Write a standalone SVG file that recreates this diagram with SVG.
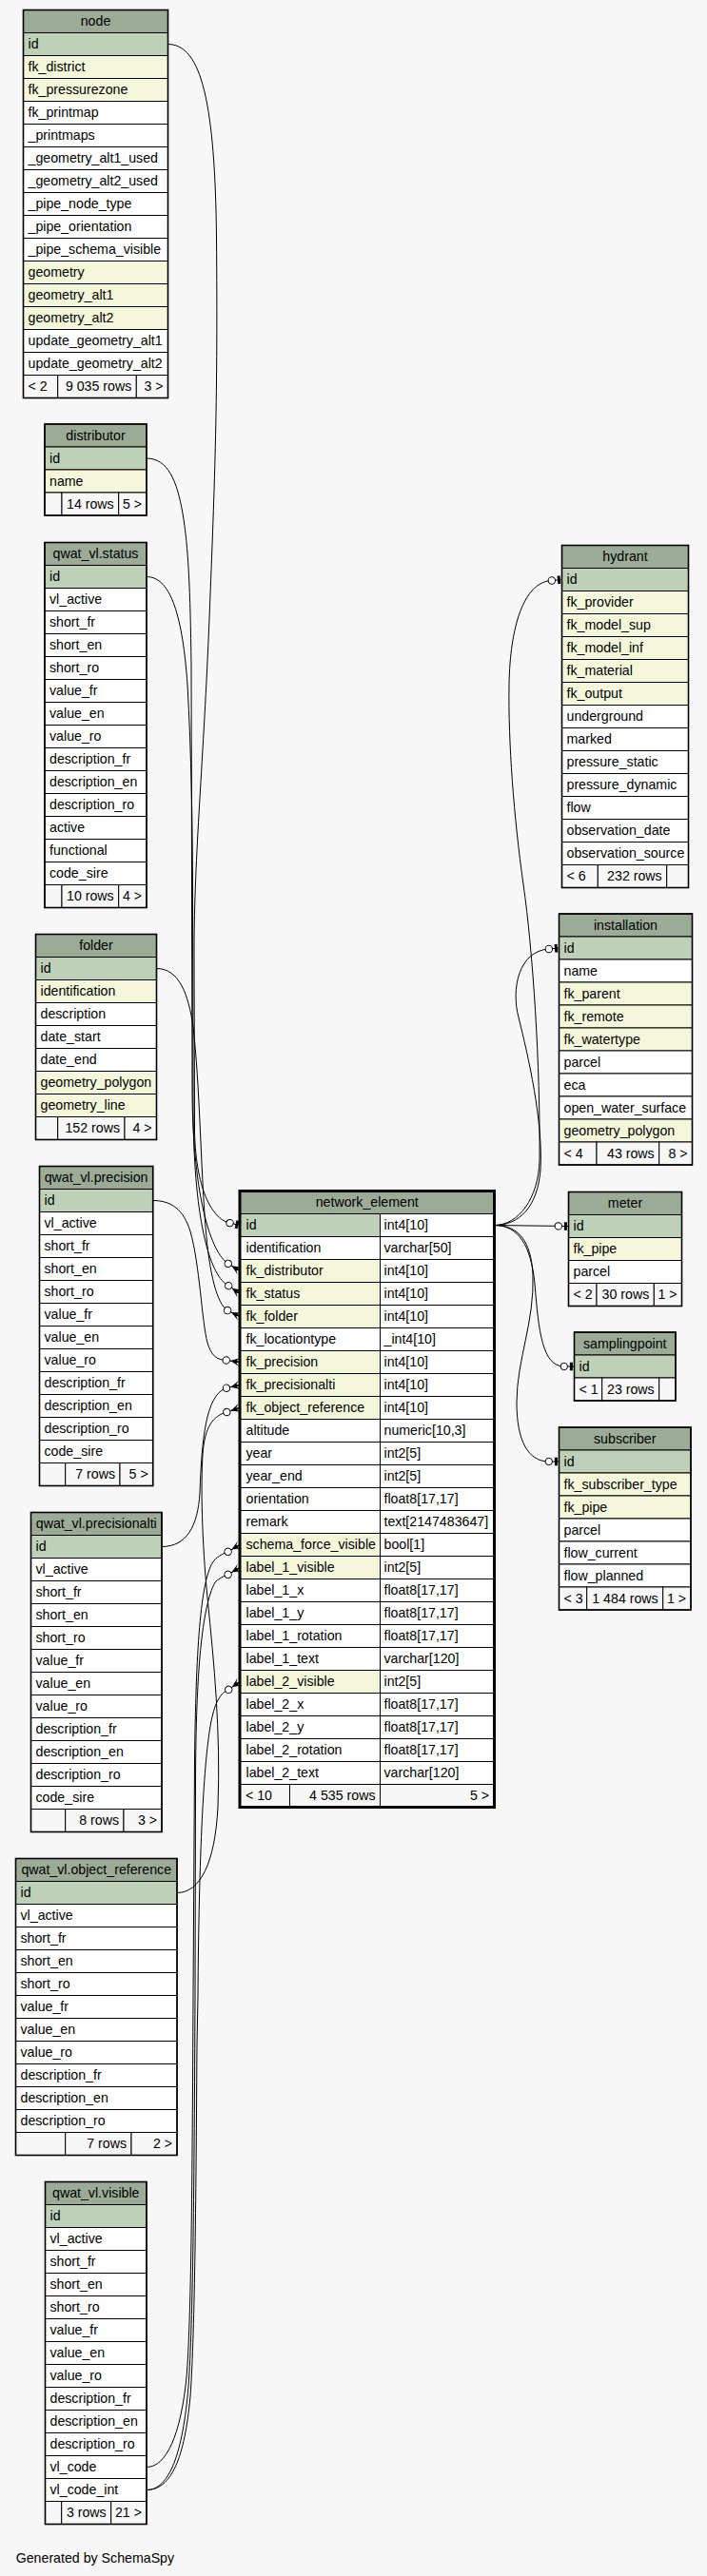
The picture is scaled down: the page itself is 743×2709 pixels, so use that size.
<svg xmlns="http://www.w3.org/2000/svg" width="743" height="2709" viewBox="0 0 743 2709">
<style>
text{font-family:"Liberation Sans",Arial,Helvetica,sans-serif;font-size:14.2px;fill:#000}
.c{text-anchor:middle}
.e{text-anchor:end}
.h{fill:#9bab96;stroke:#000;stroke-width:1}
.pk{fill:#bed1b8;stroke:#000;stroke-width:1}
.fk{fill:#f4f7da;stroke:#000;stroke-width:1}
.w{fill:#fff;stroke:#000;stroke-width:1}
.f{fill:#f7f7f7;stroke:#000;stroke-width:1}
.ob{fill:none;stroke:#000;stroke-width:1.6}
.obs{fill:none;stroke:#000;stroke-width:3}
.ln{fill:none;stroke:#000;stroke-width:1}
</style>
<defs>
<marker id="crowodot" markerUnits="userSpaceOnUse" orient="auto" markerWidth="40" markerHeight="20" viewBox="-20 -10 40 20" refX="0" refY="0" overflow="visible">
<path d="M-10,0 L0,-4.5 L-3.5,-1.2 L0,0 L-3.5,1.2 L0,4.5 Z" fill="#000"/>
<circle cx="-14.4" cy="0" r="3.7" fill="#fff" stroke="#000" stroke-width="1"/>
</marker>
<marker id="teeodot" markerUnits="userSpaceOnUse" orient="auto" markerWidth="40" markerHeight="20" viewBox="-20 -10 40 20" refX="0" refY="0" overflow="visible">
<rect x="-4.6" y="-4.3" width="3" height="8.6" fill="#000"/>
<circle cx="-10.7" cy="0" r="3.7" fill="#fff" stroke="#000" stroke-width="1"/>
</marker>
</defs>
<rect x="0" y="0" width="743" height="2709" fill="#f7f7f7"/>

<g id="node">
<rect class="h" x="24.5" y="10.5" width="152" height="24"/><text class="c" x="100.5" y="27">node</text>
<rect class="pk" x="24.5" y="34.5" width="152" height="24"/><text x="29.5" y="51">id</text>
<rect class="fk" x="24.5" y="58.5" width="152" height="24"/><text x="29.5" y="75">fk_district</text>
<rect class="fk" x="24.5" y="82.5" width="152" height="24"/><text x="29.5" y="99">fk_pressurezone</text>
<rect class="w" x="24.5" y="106.5" width="152" height="24"/><text x="29.5" y="123">fk_printmap</text>
<rect class="w" x="24.5" y="130.5" width="152" height="24"/><text x="29.5" y="147">_printmaps</text>
<rect class="w" x="24.5" y="154.5" width="152" height="24"/><text x="29.5" y="171">_geometry_alt1_used</text>
<rect class="w" x="24.5" y="178.5" width="152" height="24"/><text x="29.5" y="195">_geometry_alt2_used</text>
<rect class="w" x="24.5" y="202.5" width="152" height="24"/><text x="29.5" y="219">_pipe_node_type</text>
<rect class="w" x="24.5" y="226.5" width="152" height="24"/><text x="29.5" y="243">_pipe_orientation</text>
<rect class="w" x="24.5" y="250.5" width="152" height="24"/><text x="29.5" y="267">_pipe_schema_visible</text>
<rect class="fk" x="24.5" y="274.5" width="152" height="24"/><text x="29.5" y="291">geometry</text>
<rect class="fk" x="24.5" y="298.5" width="152" height="24"/><text x="29.5" y="315">geometry_alt1</text>
<rect class="fk" x="24.5" y="322.5" width="152" height="24"/><text x="29.5" y="339">geometry_alt2</text>
<rect class="w" x="24.5" y="346.5" width="152" height="24"/><text x="29.5" y="363">update_geometry_alt1</text>
<rect class="w" x="24.5" y="370.5" width="152" height="24"/><text x="29.5" y="387">update_geometry_alt2</text>
<rect class="f" x="24.5" y="394.5" width="36.2" height="24"/><rect class="f" x="60.7" y="394.5" width="82.6" height="24"/><rect class="f" x="143.3" y="394.5" width="33.2" height="24"/>
<text x="29.5" y="411">&lt; 2</text><text class="e" x="138.3" y="411">9 035 rows</text><text class="e" x="171.5" y="411">3 &gt;</text>
<rect class="ob" x="24.5" y="10.5" width="152" height="408"/>
</g>

<g id="distributor">
<rect class="h" x="47" y="446" width="107" height="24"/><text class="c" x="100.5" y="462.5">distributor</text>
<rect class="pk" x="47" y="470" width="107" height="24"/><text x="52" y="486.5">id</text>
<rect class="fk" x="47" y="494" width="107" height="24"/><text x="52" y="510.5">name</text>
<rect class="f" x="47" y="518" width="18" height="24"/><rect class="f" x="65" y="518" width="59.7" height="24"/><rect class="f" x="124.7" y="518" width="29.3" height="24"/>
<text class="e" x="119.7" y="534.5">14 rows</text><text class="e" x="149" y="534.5">5 &gt;</text>
<rect class="ob" x="47" y="446" width="107" height="96"/>
</g>

<g id="qwat_vl_status">
<rect class="h" x="47" y="570.5" width="107" height="24"/><text class="c" x="100.5" y="587">qwat_vl.status</text>
<rect class="pk" x="47" y="594.5" width="107" height="24"/><text x="52" y="611">id</text>
<rect class="w" x="47" y="618.5" width="107" height="24"/><text x="52" y="635">vl_active</text>
<rect class="w" x="47" y="642.5" width="107" height="24"/><text x="52" y="659">short_fr</text>
<rect class="w" x="47" y="666.5" width="107" height="24"/><text x="52" y="683">short_en</text>
<rect class="w" x="47" y="690.5" width="107" height="24"/><text x="52" y="707">short_ro</text>
<rect class="w" x="47" y="714.5" width="107" height="24"/><text x="52" y="731">value_fr</text>
<rect class="w" x="47" y="738.5" width="107" height="24"/><text x="52" y="755">value_en</text>
<rect class="w" x="47" y="762.5" width="107" height="24"/><text x="52" y="779">value_ro</text>
<rect class="w" x="47" y="786.5" width="107" height="24"/><text x="52" y="803">description_fr</text>
<rect class="w" x="47" y="810.5" width="107" height="24"/><text x="52" y="827">description_en</text>
<rect class="w" x="47" y="834.5" width="107" height="24"/><text x="52" y="851">description_ro</text>
<rect class="w" x="47" y="858.5" width="107" height="24"/><text x="52" y="875">active</text>
<rect class="w" x="47" y="882.5" width="107" height="24"/><text x="52" y="899">functional</text>
<rect class="w" x="47" y="906.5" width="107" height="24"/><text x="52" y="923">code_sire</text>
<rect class="f" x="47" y="930.5" width="18" height="24"/><rect class="f" x="65" y="930.5" width="59.7" height="24"/><rect class="f" x="124.7" y="930.5" width="29.3" height="24"/>
<text class="e" x="119.7" y="947">10 rows</text><text class="e" x="149" y="947">4 &gt;</text>
<rect class="ob" x="47" y="570.5" width="107" height="384"/>
</g>

<g id="folder">
<rect class="h" x="37.5" y="982.5" width="127" height="24"/><text class="c" x="101" y="999">folder</text>
<rect class="pk" x="37.5" y="1006.5" width="127" height="24"/><text x="42.5" y="1023">id</text>
<rect class="fk" x="37.5" y="1030.5" width="127" height="24"/><text x="42.5" y="1047">identification</text>
<rect class="w" x="37.5" y="1054.5" width="127" height="24"/><text x="42.5" y="1071">description</text>
<rect class="w" x="37.5" y="1078.5" width="127" height="24"/><text x="42.5" y="1095">date_start</text>
<rect class="w" x="37.5" y="1102.5" width="127" height="24"/><text x="42.5" y="1119">date_end</text>
<rect class="fk" x="37.5" y="1126.5" width="127" height="24"/><text x="42.5" y="1143">geometry_polygon</text>
<rect class="fk" x="37.5" y="1150.5" width="127" height="24"/><text x="42.5" y="1167">geometry_line</text>
<rect class="f" x="37.5" y="1174.5" width="23.2" height="24"/><rect class="f" x="60.7" y="1174.5" width="70.3" height="24"/><rect class="f" x="131" y="1174.5" width="33.5" height="24"/>
<text class="e" x="126" y="1191">152 rows</text><text class="e" x="159.5" y="1191">4 &gt;</text>
<rect class="ob" x="37.5" y="982.5" width="127" height="216"/>
</g>

<g id="qwat_vl_precision">
<rect class="h" x="41.5" y="1226.5" width="119.2" height="24"/><text class="c" x="101.1" y="1243">qwat_vl.precision</text>
<rect class="pk" x="41.5" y="1250.5" width="119.2" height="24"/><text x="46.5" y="1267">id</text>
<rect class="w" x="41.5" y="1274.5" width="119.2" height="24"/><text x="46.5" y="1291">vl_active</text>
<rect class="w" x="41.5" y="1298.5" width="119.2" height="24"/><text x="46.5" y="1315">short_fr</text>
<rect class="w" x="41.5" y="1322.5" width="119.2" height="24"/><text x="46.5" y="1339">short_en</text>
<rect class="w" x="41.5" y="1346.5" width="119.2" height="24"/><text x="46.5" y="1363">short_ro</text>
<rect class="w" x="41.5" y="1370.5" width="119.2" height="24"/><text x="46.5" y="1387">value_fr</text>
<rect class="w" x="41.5" y="1394.5" width="119.2" height="24"/><text x="46.5" y="1411">value_en</text>
<rect class="w" x="41.5" y="1418.5" width="119.2" height="24"/><text x="46.5" y="1435">value_ro</text>
<rect class="w" x="41.5" y="1442.5" width="119.2" height="24"/><text x="46.5" y="1459">description_fr</text>
<rect class="w" x="41.5" y="1466.5" width="119.2" height="24"/><text x="46.5" y="1483">description_en</text>
<rect class="w" x="41.5" y="1490.5" width="119.2" height="24"/><text x="46.5" y="1507">description_ro</text>
<rect class="w" x="41.5" y="1514.5" width="119.2" height="24"/><text x="46.5" y="1531">code_sire</text>
<rect class="f" x="41.5" y="1538.5" width="27.2" height="24"/><rect class="f" x="68.7" y="1538.5" width="57.3" height="24"/><rect class="f" x="126" y="1538.5" width="34.7" height="24"/>
<text class="e" x="121" y="1555">7 rows</text><text class="e" x="155.7" y="1555">5 &gt;</text>
<rect class="ob" x="41.5" y="1226.5" width="119.2" height="336"/>
</g>

<g id="qwat_vl_precisionalti">
<rect class="h" x="32.5" y="1590.5" width="137.5" height="24"/><text class="c" x="101.25" y="1607">qwat_vl.precisionalti</text>
<rect class="pk" x="32.5" y="1614.5" width="137.5" height="24"/><text x="37.5" y="1631">id</text>
<rect class="w" x="32.5" y="1638.5" width="137.5" height="24"/><text x="37.5" y="1655">vl_active</text>
<rect class="w" x="32.5" y="1662.5" width="137.5" height="24"/><text x="37.5" y="1679">short_fr</text>
<rect class="w" x="32.5" y="1686.5" width="137.5" height="24"/><text x="37.5" y="1703">short_en</text>
<rect class="w" x="32.5" y="1710.5" width="137.5" height="24"/><text x="37.5" y="1727">short_ro</text>
<rect class="w" x="32.5" y="1734.5" width="137.5" height="24"/><text x="37.5" y="1751">value_fr</text>
<rect class="w" x="32.5" y="1758.5" width="137.5" height="24"/><text x="37.5" y="1775">value_en</text>
<rect class="w" x="32.5" y="1782.5" width="137.5" height="24"/><text x="37.5" y="1799">value_ro</text>
<rect class="w" x="32.5" y="1806.5" width="137.5" height="24"/><text x="37.5" y="1823">description_fr</text>
<rect class="w" x="32.5" y="1830.5" width="137.5" height="24"/><text x="37.5" y="1847">description_en</text>
<rect class="w" x="32.5" y="1854.5" width="137.5" height="24"/><text x="37.5" y="1871">description_ro</text>
<rect class="w" x="32.5" y="1878.5" width="137.5" height="24"/><text x="37.5" y="1895">code_sire</text>
<rect class="f" x="32.5" y="1902.5" width="36.2" height="24"/><rect class="f" x="68.7" y="1902.5" width="61.3" height="24"/><rect class="f" x="130" y="1902.5" width="40" height="24"/>
<text class="e" x="125" y="1919">8 rows</text><text class="e" x="165" y="1919">3 &gt;</text>
<rect class="ob" x="32.5" y="1590.5" width="137.5" height="336"/>
</g>

<g id="qwat_vl_object_reference">
<rect class="h" x="16.5" y="1954.5" width="169.5" height="24"/><text class="c" x="101.25" y="1971">qwat_vl.object_reference</text>
<rect class="pk" x="16.5" y="1978.5" width="169.5" height="24"/><text x="21.5" y="1995">id</text>
<rect class="w" x="16.5" y="2002.5" width="169.5" height="24"/><text x="21.5" y="2019">vl_active</text>
<rect class="w" x="16.5" y="2026.5" width="169.5" height="24"/><text x="21.5" y="2043">short_fr</text>
<rect class="w" x="16.5" y="2050.5" width="169.5" height="24"/><text x="21.5" y="2067">short_en</text>
<rect class="w" x="16.5" y="2074.5" width="169.5" height="24"/><text x="21.5" y="2091">short_ro</text>
<rect class="w" x="16.5" y="2098.5" width="169.5" height="24"/><text x="21.5" y="2115">value_fr</text>
<rect class="w" x="16.5" y="2122.5" width="169.5" height="24"/><text x="21.5" y="2139">value_en</text>
<rect class="w" x="16.5" y="2146.5" width="169.5" height="24"/><text x="21.5" y="2163">value_ro</text>
<rect class="w" x="16.5" y="2170.5" width="169.5" height="24"/><text x="21.5" y="2187">description_fr</text>
<rect class="w" x="16.5" y="2194.5" width="169.5" height="24"/><text x="21.5" y="2211">description_en</text>
<rect class="w" x="16.5" y="2218.5" width="169.5" height="24"/><text x="21.5" y="2235">description_ro</text>
<rect class="f" x="16.5" y="2242.5" width="52.2" height="24"/><rect class="f" x="68.7" y="2242.5" width="69.3" height="24"/><rect class="f" x="138" y="2242.5" width="48" height="24"/>
<text class="e" x="133" y="2259">7 rows</text><text class="e" x="181" y="2259">2 &gt;</text>
<rect class="ob" x="16.5" y="1954.5" width="169.5" height="312"/>
</g>

<g id="qwat_vl_visible">
<rect class="h" x="47.5" y="2294.5" width="106.5" height="24"/><text class="c" x="100.75" y="2311">qwat_vl.visible</text>
<rect class="pk" x="47.5" y="2318.5" width="106.5" height="24"/><text x="52.5" y="2335">id</text>
<rect class="w" x="47.5" y="2342.5" width="106.5" height="24"/><text x="52.5" y="2359">vl_active</text>
<rect class="w" x="47.5" y="2366.5" width="106.5" height="24"/><text x="52.5" y="2383">short_fr</text>
<rect class="w" x="47.5" y="2390.5" width="106.5" height="24"/><text x="52.5" y="2407">short_en</text>
<rect class="w" x="47.5" y="2414.5" width="106.5" height="24"/><text x="52.5" y="2431">short_ro</text>
<rect class="w" x="47.5" y="2438.5" width="106.5" height="24"/><text x="52.5" y="2455">value_fr</text>
<rect class="w" x="47.5" y="2462.5" width="106.5" height="24"/><text x="52.5" y="2479">value_en</text>
<rect class="w" x="47.5" y="2486.5" width="106.5" height="24"/><text x="52.5" y="2503">value_ro</text>
<rect class="w" x="47.5" y="2510.5" width="106.5" height="24"/><text x="52.5" y="2527">description_fr</text>
<rect class="w" x="47.5" y="2534.5" width="106.5" height="24"/><text x="52.5" y="2551">description_en</text>
<rect class="w" x="47.5" y="2558.5" width="106.5" height="24"/><text x="52.5" y="2575">description_ro</text>
<rect class="w" x="47.5" y="2582.5" width="106.5" height="24"/><text x="52.5" y="2599">vl_code</text>
<rect class="w" x="47.5" y="2606.5" width="106.5" height="24"/><text x="52.5" y="2623">vl_code_int</text>
<rect class="f" x="47.5" y="2630.5" width="17.2" height="24"/><rect class="f" x="64.7" y="2630.5" width="52" height="24"/><rect class="f" x="116.7" y="2630.5" width="37.3" height="24"/>
<text class="e" x="111.7" y="2647">3 rows</text><text class="e" x="149" y="2647">21 &gt;</text>
<rect class="ob" x="47.5" y="2294.5" width="106.5" height="360"/>
</g>

<g id="network_element">
<rect class="h" x="252" y="1252.5" width="267.5" height="24"/><text class="c" x="385.75" y="1269">network_element</text>
<rect class="pk" x="252" y="1276.5" width="147.5" height="24"/><rect class="w" x="399.5" y="1276.5" width="120" height="24"/><text x="258.5" y="1293">id</text><text x="403.5" y="1293">int4[10]</text>
<rect class="w" x="252" y="1300.5" width="147.5" height="24"/><rect class="w" x="399.5" y="1300.5" width="120" height="24"/><text x="258.5" y="1317">identification</text><text x="403.5" y="1317">varchar[50]</text>
<rect class="fk" x="252" y="1324.5" width="147.5" height="24"/><rect class="w" x="399.5" y="1324.5" width="120" height="24"/><text x="258.5" y="1341">fk_distributor</text><text x="403.5" y="1341">int4[10]</text>
<rect class="fk" x="252" y="1348.5" width="147.5" height="24"/><rect class="w" x="399.5" y="1348.5" width="120" height="24"/><text x="258.5" y="1365">fk_status</text><text x="403.5" y="1365">int4[10]</text>
<rect class="fk" x="252" y="1372.5" width="147.5" height="24"/><rect class="w" x="399.5" y="1372.5" width="120" height="24"/><text x="258.5" y="1389">fk_folder</text><text x="403.5" y="1389">int4[10]</text>
<rect class="w" x="252" y="1396.5" width="147.5" height="24"/><rect class="w" x="399.5" y="1396.5" width="120" height="24"/><text x="258.5" y="1413">fk_locationtype</text><text x="403.5" y="1413">_int4[10]</text>
<rect class="fk" x="252" y="1420.5" width="147.5" height="24"/><rect class="w" x="399.5" y="1420.5" width="120" height="24"/><text x="258.5" y="1437">fk_precision</text><text x="403.5" y="1437">int4[10]</text>
<rect class="fk" x="252" y="1444.5" width="147.5" height="24"/><rect class="w" x="399.5" y="1444.5" width="120" height="24"/><text x="258.5" y="1461">fk_precisionalti</text><text x="403.5" y="1461">int4[10]</text>
<rect class="fk" x="252" y="1468.5" width="147.5" height="24"/><rect class="w" x="399.5" y="1468.5" width="120" height="24"/><text x="258.5" y="1485">fk_object_reference</text><text x="403.5" y="1485">int4[10]</text>
<rect class="w" x="252" y="1492.5" width="147.5" height="24"/><rect class="w" x="399.5" y="1492.5" width="120" height="24"/><text x="258.5" y="1509">altitude</text><text x="403.5" y="1509">numeric[10,3]</text>
<rect class="w" x="252" y="1516.5" width="147.5" height="24"/><rect class="w" x="399.5" y="1516.5" width="120" height="24"/><text x="258.5" y="1533">year</text><text x="403.5" y="1533">int2[5]</text>
<rect class="w" x="252" y="1540.5" width="147.5" height="24"/><rect class="w" x="399.5" y="1540.5" width="120" height="24"/><text x="258.5" y="1557">year_end</text><text x="403.5" y="1557">int2[5]</text>
<rect class="w" x="252" y="1564.5" width="147.5" height="24"/><rect class="w" x="399.5" y="1564.5" width="120" height="24"/><text x="258.5" y="1581">orientation</text><text x="403.5" y="1581">float8[17,17]</text>
<rect class="w" x="252" y="1588.5" width="147.5" height="24"/><rect class="w" x="399.5" y="1588.5" width="120" height="24"/><text x="258.5" y="1605">remark</text><text x="403.5" y="1605">text[2147483647]</text>
<rect class="fk" x="252" y="1612.5" width="147.5" height="24"/><rect class="w" x="399.5" y="1612.5" width="120" height="24"/><text x="258.5" y="1629">schema_force_visible</text><text x="403.5" y="1629">bool[1]</text>
<rect class="fk" x="252" y="1636.5" width="147.5" height="24"/><rect class="w" x="399.5" y="1636.5" width="120" height="24"/><text x="258.5" y="1653">label_1_visible</text><text x="403.5" y="1653">int2[5]</text>
<rect class="w" x="252" y="1660.5" width="147.5" height="24"/><rect class="w" x="399.5" y="1660.5" width="120" height="24"/><text x="258.5" y="1677">label_1_x</text><text x="403.5" y="1677">float8[17,17]</text>
<rect class="w" x="252" y="1684.5" width="147.5" height="24"/><rect class="w" x="399.5" y="1684.5" width="120" height="24"/><text x="258.5" y="1701">label_1_y</text><text x="403.5" y="1701">float8[17,17]</text>
<rect class="w" x="252" y="1708.5" width="147.5" height="24"/><rect class="w" x="399.5" y="1708.5" width="120" height="24"/><text x="258.5" y="1725">label_1_rotation</text><text x="403.5" y="1725">float8[17,17]</text>
<rect class="w" x="252" y="1732.5" width="147.5" height="24"/><rect class="w" x="399.5" y="1732.5" width="120" height="24"/><text x="258.5" y="1749">label_1_text</text><text x="403.5" y="1749">varchar[120]</text>
<rect class="fk" x="252" y="1756.5" width="147.5" height="24"/><rect class="w" x="399.5" y="1756.5" width="120" height="24"/><text x="258.5" y="1773">label_2_visible</text><text x="403.5" y="1773">int2[5]</text>
<rect class="w" x="252" y="1780.5" width="147.5" height="24"/><rect class="w" x="399.5" y="1780.5" width="120" height="24"/><text x="258.5" y="1797">label_2_x</text><text x="403.5" y="1797">float8[17,17]</text>
<rect class="w" x="252" y="1804.5" width="147.5" height="24"/><rect class="w" x="399.5" y="1804.5" width="120" height="24"/><text x="258.5" y="1821">label_2_y</text><text x="403.5" y="1821">float8[17,17]</text>
<rect class="w" x="252" y="1828.5" width="147.5" height="24"/><rect class="w" x="399.5" y="1828.5" width="120" height="24"/><text x="258.5" y="1845">label_2_rotation</text><text x="403.5" y="1845">float8[17,17]</text>
<rect class="w" x="252" y="1852.5" width="147.5" height="24"/><rect class="w" x="399.5" y="1852.5" width="120" height="24"/><text x="258.5" y="1869">label_2_text</text><text x="403.5" y="1869">varchar[120]</text>
<rect class="f" x="252" y="1876.5" width="52.5" height="24"/><rect class="f" x="304.5" y="1876.5" width="95" height="24"/><rect class="f" x="399.5" y="1876.5" width="120" height="24"/>
<text x="258" y="1893">&lt; 10</text><text class="e" x="394.5" y="1893">4 535 rows</text><text class="e" x="514" y="1893">5 &gt;</text>
<rect class="obs" x="252" y="1252.5" width="267.5" height="648"/>
</g>

<g id="hydrant">
<rect class="h" x="590.5" y="573.5" width="133" height="24"/><text class="c" x="657" y="590">hydrant</text>
<rect class="pk" x="590.5" y="597.5" width="133" height="24"/><text x="595.5" y="614">id</text>
<rect class="fk" x="590.5" y="621.5" width="133" height="24"/><text x="595.5" y="638">fk_provider</text>
<rect class="fk" x="590.5" y="645.5" width="133" height="24"/><text x="595.5" y="662">fk_model_sup</text>
<rect class="fk" x="590.5" y="669.5" width="133" height="24"/><text x="595.5" y="686">fk_model_inf</text>
<rect class="fk" x="590.5" y="693.5" width="133" height="24"/><text x="595.5" y="710">fk_material</text>
<rect class="fk" x="590.5" y="717.5" width="133" height="24"/><text x="595.5" y="734">fk_output</text>
<rect class="w" x="590.5" y="741.5" width="133" height="24"/><text x="595.5" y="758">underground</text>
<rect class="w" x="590.5" y="765.5" width="133" height="24"/><text x="595.5" y="782">marked</text>
<rect class="w" x="590.5" y="789.5" width="133" height="24"/><text x="595.5" y="806">pressure_static</text>
<rect class="w" x="590.5" y="813.5" width="133" height="24"/><text x="595.5" y="830">pressure_dynamic</text>
<rect class="w" x="590.5" y="837.5" width="133" height="24"/><text x="595.5" y="854">flow</text>
<rect class="w" x="590.5" y="861.5" width="133" height="24"/><text x="595.5" y="878">observation_date</text>
<rect class="w" x="590.5" y="885.5" width="133" height="24"/><text x="595.5" y="902">observation_source</text>
<rect class="f" x="590.5" y="909.5" width="37.8" height="24"/><rect class="f" x="628.3" y="909.5" width="72.4" height="24"/><rect class="f" x="700.7" y="909.5" width="22.8" height="24"/>
<text x="595.5" y="926">&lt; 6</text><text class="e" x="695.7" y="926">232 rows</text>
<rect class="ob" x="590.5" y="573.5" width="133" height="360"/>
</g>

<g id="installation">
<rect class="h" x="587.5" y="961" width="140" height="24"/><text class="c" x="657.5" y="977.5">installation</text>
<rect class="pk" x="587.5" y="985" width="140" height="24"/><text x="592.5" y="1001.5">id</text>
<rect class="w" x="587.5" y="1009" width="140" height="24"/><text x="592.5" y="1025.5">name</text>
<rect class="fk" x="587.5" y="1033" width="140" height="24"/><text x="592.5" y="1049.5">fk_parent</text>
<rect class="fk" x="587.5" y="1057" width="140" height="24"/><text x="592.5" y="1073.5">fk_remote</text>
<rect class="fk" x="587.5" y="1081" width="140" height="24"/><text x="592.5" y="1097.5">fk_watertype</text>
<rect class="w" x="587.5" y="1105" width="140" height="24"/><text x="592.5" y="1121.5">parcel</text>
<rect class="w" x="587.5" y="1129" width="140" height="24"/><text x="592.5" y="1145.5">eca</text>
<rect class="w" x="587.5" y="1153" width="140" height="24"/><text x="592.5" y="1169.5">open_water_surface</text>
<rect class="fk" x="587.5" y="1177" width="140" height="24"/><text x="592.5" y="1193.5">geometry_polygon</text>
<rect class="f" x="587.5" y="1201" width="39.5" height="24"/><rect class="f" x="627" y="1201" width="65.7" height="24"/><rect class="f" x="692.7" y="1201" width="34.8" height="24"/>
<text x="592.5" y="1217.5">&lt; 4</text><text class="e" x="687.7" y="1217.5">43 rows</text><text class="e" x="722.5" y="1217.5">8 &gt;</text>
<rect class="ob" x="587.5" y="961" width="140" height="264"/>
</g>

<g id="meter">
<rect class="h" x="597.5" y="1253.5" width="119" height="24"/><text class="c" x="657" y="1270">meter</text>
<rect class="pk" x="597.5" y="1277.5" width="119" height="24"/><text x="602.5" y="1294">id</text>
<rect class="fk" x="597.5" y="1301.5" width="119" height="24"/><text x="602.5" y="1318">fk_pipe</text>
<rect class="w" x="597.5" y="1325.5" width="119" height="24"/><text x="602.5" y="1342">parcel</text>
<rect class="f" x="597.5" y="1349.5" width="29.5" height="24"/><rect class="f" x="627" y="1349.5" width="60.3" height="24"/><rect class="f" x="687.3" y="1349.5" width="29.2" height="24"/>
<text x="602.5" y="1366">&lt; 2</text><text class="e" x="682.3" y="1366">30 rows</text><text class="e" x="711.5" y="1366">1 &gt;</text>
<rect class="ob" x="597.5" y="1253.5" width="119" height="120"/>
</g>

<g id="samplingpoint">
<rect class="h" x="603.5" y="1401" width="106.5" height="24"/><text class="c" x="656.75" y="1417.5">samplingpoint</text>
<rect class="pk" x="603.5" y="1425" width="106.5" height="24"/><text x="608.5" y="1441.5">id</text>
<rect class="f" x="603.5" y="1449" width="29.2" height="24"/><rect class="f" x="632.7" y="1449" width="60" height="24"/><rect class="f" x="692.7" y="1449" width="17.3" height="24"/>
<text x="608.5" y="1465.5">&lt; 1</text><text class="e" x="687.7" y="1465.5">23 rows</text>
<rect class="ob" x="603.5" y="1401" width="106.5" height="72"/>
</g>

<g id="subscriber">
<rect class="h" x="587.5" y="1501" width="138.5" height="24"/><text class="c" x="656.75" y="1517.5">subscriber</text>
<rect class="pk" x="587.5" y="1525" width="138.5" height="24"/><text x="592.5" y="1541.5">id</text>
<rect class="fk" x="587.5" y="1549" width="138.5" height="24"/><text x="592.5" y="1565.5">fk_subscriber_type</text>
<rect class="fk" x="587.5" y="1573" width="138.5" height="24"/><text x="592.5" y="1589.5">fk_pipe</text>
<rect class="w" x="587.5" y="1597" width="138.5" height="24"/><text x="592.5" y="1613.5">parcel</text>
<rect class="w" x="587.5" y="1621" width="138.5" height="24"/><text x="592.5" y="1637.5">flow_current</text>
<rect class="w" x="587.5" y="1645" width="138.5" height="24"/><text x="592.5" y="1661.5">flow_planned</text>
<rect class="f" x="587.5" y="1669" width="29.2" height="24"/><rect class="f" x="616.7" y="1669" width="80" height="24"/><rect class="f" x="696.7" y="1669" width="29.3" height="24"/>
<text x="592.5" y="1685.5">&lt; 3</text><text class="e" x="691.7" y="1685.5">1 484 rows</text><text class="e" x="721" y="1685.5">1 &gt;</text>
<rect class="ob" x="587.5" y="1501" width="138.5" height="192"/>
</g>

<g id="connectors">
<path class="ln" marker-end="url(#teeodot)" d="M176.5,46.5 C212,46.5 226,110 227.5,250 C229,420 226,500 220,650 C214,800 204,900 204,1000 L204.5,1190 C206,1255 225,1283 241.8,1286.2 L252,1288.5"/>
<path class="ln" marker-end="url(#crowodot)" d="M154,482 C176,482 186,505 192,540 C198,575 200,620 201,700 L202,1150 C203,1260 222,1318 240,1329 L252,1336.5"/>
<path class="ln" marker-end="url(#crowodot)" d="M154,606.5 C180,606.5 192,650 197,720 C201,790 202.5,870 202.5,950 L203,1170 C204,1290 222,1343 240,1352 L252,1360.5"/>
<path class="ln" marker-end="url(#crowodot)" d="M164.5,1018.5 C188,1018.5 198,1045 203,1080 C210,1140 211,1230 216,1290 C220,1340 228,1371 239,1378 L252,1384.5"/>
<path class="ln" marker-end="url(#crowodot)" d="M160.7,1262.5 C180,1262.5 193,1272 200,1295 C210,1330 212,1390 218,1412 C222,1426 228,1430 237.7,1430.5 L252,1432.5"/>
<path class="ln" marker-end="url(#crowodot)" d="M170,1626.5 C196,1626.5 208,1605 210,1570 C212,1515 216,1467 237.7,1459.8 L252,1456.5"/>
<path class="ln" marker-end="url(#crowodot)" d="M186,1990.5 C210,1990.5 226,1960 229,1900 C232,1820 225,1750 218,1680 C212,1620 211,1560 213,1530 C215,1500 224,1489 238.3,1485 L252,1480.5"/>
<path class="ln" marker-end="url(#crowodot)" d="M154,2594.5 C175,2594.5 190,2560 196,2500 C201,2440 202,2300 203,2100 L204.5,1850 C206,1740 210,1660 225,1641 C230,1636 234,1634 239.3,1632 L252,1624.5"/>
<path class="ln" marker-end="url(#crowodot)" d="M154,2618.5 C178,2618.5 192,2580 198,2510 C203,2440 204,2300 205,2100 L205.5,1870 C206,1760 212,1690 226,1664 C230,1660 234,1658 239.3,1656 L252,1648.5"/>
<path class="ln" marker-end="url(#crowodot)" d="M154,2618.5 C180,2618.5 194,2585 200,2520 C205,2450 206,2300 207,2150 L208,2100 C209,1950 214,1850 222,1810 C226,1790 232,1780 240,1777 L252,1768.5"/>
<path class="ln" marker-end="url(#teeodot)" d="M519.5,1288.5 C545,1288.5 566,1260 567,1220 C568,1120 560,1000 550,930 C540,860 534,780 535,720 C536,660 550,612 579.8,610.5 L590.5,609.5"/>
<path class="ln" marker-end="url(#teeodot)" d="M519.5,1288.5 C545,1288.5 565,1270 568,1230 C571,1180 555,1110 545,1070 C537,1040 545,1000 576.8,998 L587.5,997"/>
<path class="ln" marker-end="url(#teeodot)" d="M519.5,1288.5 L597.5,1289.5"/>
<path class="ln" marker-end="url(#teeodot)" d="M519.5,1288.5 C545,1288.5 558,1310 562,1350 C566,1400 570,1437 592.8,1437 L603.5,1437"/>
<path class="ln" marker-end="url(#teeodot)" d="M519.5,1288.5 C545,1288.5 558,1305 560,1340 C562,1390 543,1430 543,1475 C543,1515 555,1537 576.8,1537 L587.5,1537"/>
</g>

<text x="16.7" y="2694.5">Generated by SchemaSpy</text>
</svg>
